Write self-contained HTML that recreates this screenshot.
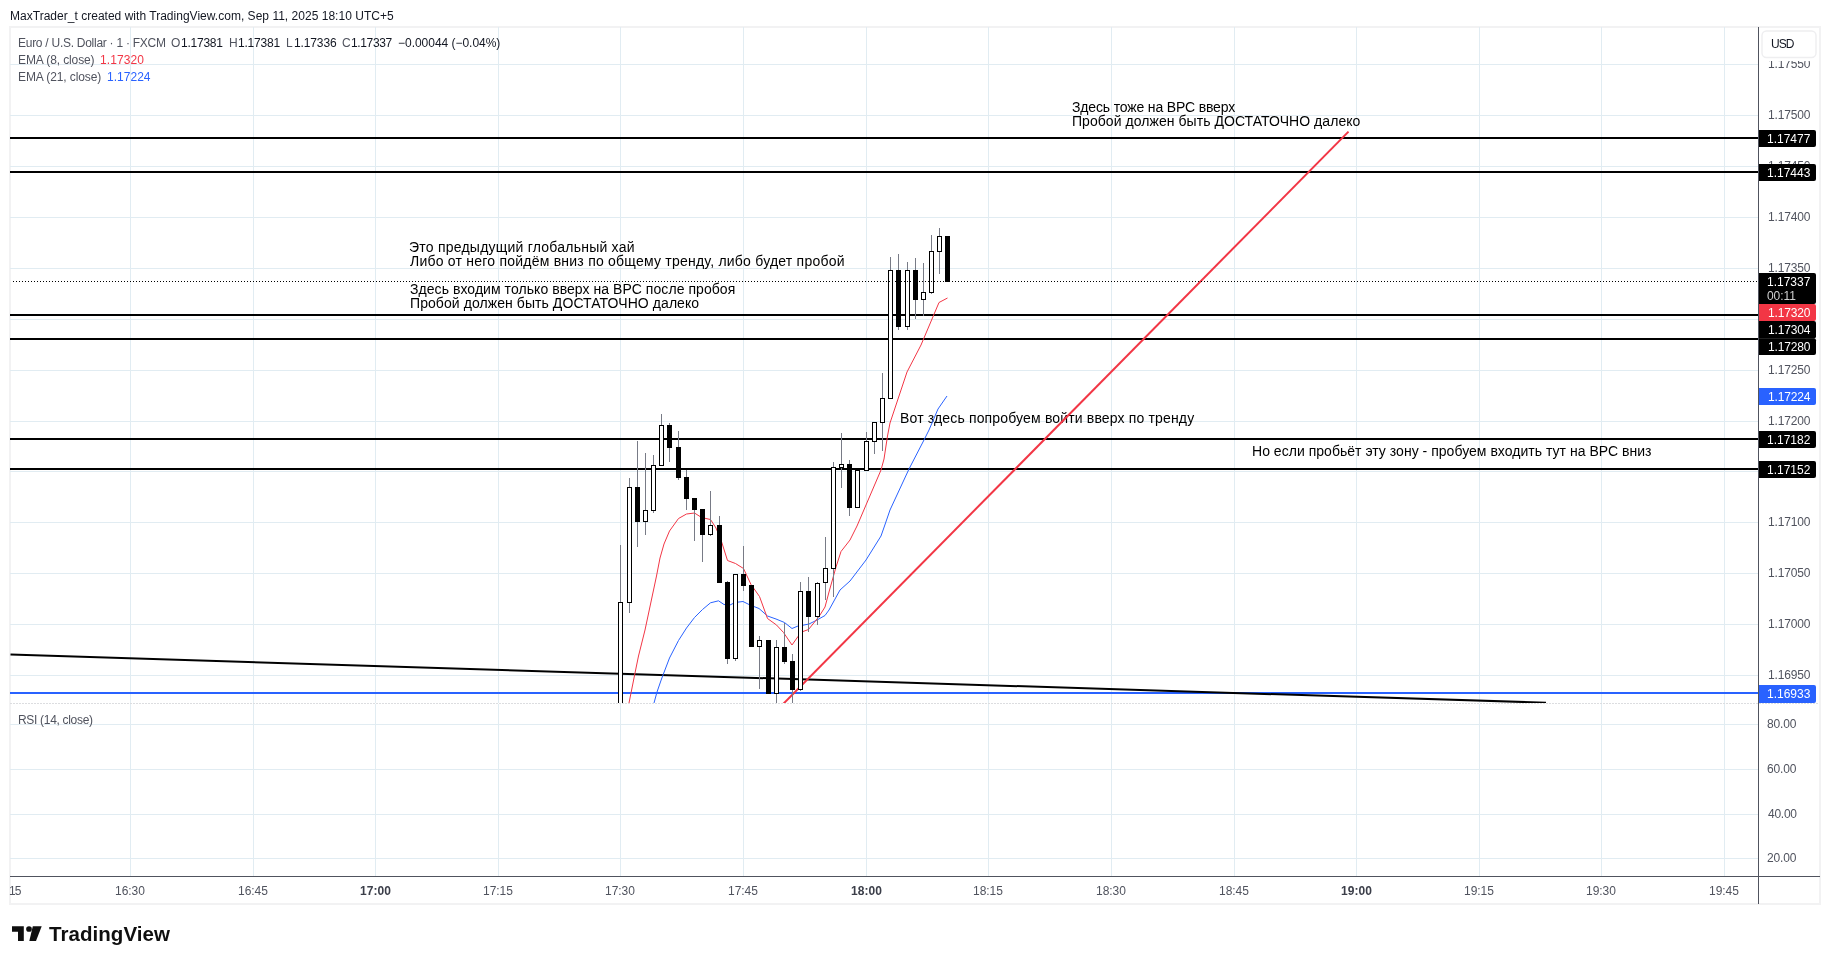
<!DOCTYPE html><html><head><meta charset="utf-8"><title>EURUSD chart</title><style>
html,body{margin:0;padding:0;background:#fff}body{width:1830px;height:964px;position:relative;overflow:hidden;font-family:"Liberation Sans",sans-serif}
.t{position:absolute;white-space:pre;line-height:1;will-change:transform;font-family:"Liberation Sans",sans-serif}
</style></head><body>
<svg width="1830" height="964" viewBox="0 0 1830 964" style="position:absolute;left:0;top:0"><rect x="9" y="26" width="1812" height="879" fill="#f2f2f3"/>
<rect x="11" y="28" width="1808" height="875" fill="#fff"/>
<g fill="#e1ecf2">
<rect x="130" y="27" width="1" height="676"/>
<rect x="130" y="704" width="1" height="172"/>
<rect x="253" y="27" width="1" height="676"/>
<rect x="253" y="704" width="1" height="172"/>
<rect x="375" y="27" width="1" height="676"/>
<rect x="375" y="704" width="1" height="172"/>
<rect x="498" y="27" width="1" height="676"/>
<rect x="498" y="704" width="1" height="172"/>
<rect x="620" y="27" width="1" height="676"/>
<rect x="620" y="704" width="1" height="172"/>
<rect x="743" y="27" width="1" height="676"/>
<rect x="743" y="704" width="1" height="172"/>
<rect x="866" y="27" width="1" height="676"/>
<rect x="866" y="704" width="1" height="172"/>
<rect x="988" y="27" width="1" height="676"/>
<rect x="988" y="704" width="1" height="172"/>
<rect x="1111" y="27" width="1" height="676"/>
<rect x="1111" y="704" width="1" height="172"/>
<rect x="1234" y="27" width="1" height="676"/>
<rect x="1234" y="704" width="1" height="172"/>
<rect x="1356" y="27" width="1" height="676"/>
<rect x="1356" y="704" width="1" height="172"/>
<rect x="1479" y="27" width="1" height="676"/>
<rect x="1479" y="704" width="1" height="172"/>
<rect x="1601" y="27" width="1" height="676"/>
<rect x="1601" y="704" width="1" height="172"/>
<rect x="1724" y="27" width="1" height="676"/>
<rect x="1724" y="704" width="1" height="172"/>
<rect x="10" y="64" width="1748" height="1"/>
<rect x="10" y="115" width="1748" height="1"/>
<rect x="10" y="166" width="1748" height="1"/>
<rect x="10" y="217" width="1748" height="1"/>
<rect x="10" y="268" width="1748" height="1"/>
<rect x="10" y="319" width="1748" height="1"/>
<rect x="10" y="370" width="1748" height="1"/>
<rect x="10" y="421" width="1748" height="1"/>
<rect x="10" y="471" width="1748" height="1"/>
<rect x="10" y="522" width="1748" height="1"/>
<rect x="10" y="573" width="1748" height="1"/>
<rect x="10" y="624" width="1748" height="1"/>
<rect x="10" y="675" width="1748" height="1"/>
<rect x="10" y="724" width="1748" height="1"/>
<rect x="10" y="769" width="1748" height="1"/>
<rect x="10" y="814" width="1748" height="1"/>
<rect x="10" y="858" width="1748" height="1"/>
</g>
<line x1="10" y1="703.5" x2="1819" y2="703.5" stroke="#dcdde0" stroke-width="1" stroke-dasharray="2 1" shape-rendering="crispEdges"/>
<rect x="10" y="137" width="1748" height="2" fill="#000"/>
<rect x="10" y="171" width="1748" height="2" fill="#000"/>
<rect x="10" y="314" width="1748" height="2" fill="#000"/>
<rect x="10" y="338" width="1748" height="2" fill="#000"/>
<rect x="10" y="438" width="1748" height="2" fill="#000"/>
<rect x="10" y="468" width="1748" height="2" fill="#000"/>
<rect x="10" y="692" width="1748" height="2" fill="#2962ff"/></svg>
<div class="t" id="t17" style="left:409.06px;top:240.15px;font-size:14px;color:#000;letter-spacing:0.229px">Это предыдущий глобальный хай</div>
<div class="t" id="t18" style="left:410.14px;top:254.15px;font-size:14px;color:#000;letter-spacing:0.228px">Либо от него пойдём вниз по общему тренду, либо будет пробой</div>
<div class="t" id="t19" style="left:409.91px;top:282.15px;font-size:14px;color:#000;letter-spacing:0.058px">Здесь входим только вверх на ВРС после пробоя</div>
<div class="t" id="t20" style="left:410.24px;top:296.15px;font-size:14px;color:#000;letter-spacing:0.076px">Пробой должен быть ДОСТАТОЧНО далеко</div>
<div class="t" id="t21" style="left:1071.98px;top:100.15px;font-size:14px;color:#000;letter-spacing:-0.152px">Здесь тоже на ВРС вверх</div>
<div class="t" id="t22" style="left:1071.68px;top:114.15px;font-size:14px;color:#000;letter-spacing:0.054px">Пробой должен быть ДОСТАТОЧНО далеко</div>
<div class="t" id="t23" style="left:900.06px;top:411.15px;font-size:14px;color:#000;letter-spacing:0.157px">Вот здесь попробуем войти вверх по тренду</div>
<div class="t" id="t24" style="left:1251.68px;top:444.15px;font-size:14px;color:#000;letter-spacing:0.025px">Но если пробьёт эту зону - пробуем входить тут на ВРС вниз</div>
<svg width="1830" height="964" viewBox="0 0 1830 964" style="position:absolute;left:0;top:0"><clipPath id="cp"><rect x="10" y="27" width="1748" height="676"/></clipPath>
<g clip-path="url(#cp)">
<line x1="10.5" y1="654.5" x2="1546" y2="702.75" stroke="#000" stroke-width="2"/>
<line x1="779.6" y1="707.6" x2="1348.5" y2="131.6" stroke="#f23645" stroke-width="2"/>
<polyline points="654,703 657,692 661.5,679 669.5,658 678.5,640.5 686.5,628 694.5,617.5 702.5,609.5 710.5,602.8 718.5,600.8 724,604.5 730,605 735,602.5 743,601.5 750,605 759,608.5 767.5,616 776,619 784.5,622.5 792,628.5 798,626 804,625 809,624 817,620 825,615.5 829,610 840,590 850,581 866,560 881,536 884.5,526 890,510 909,469 924.5,439 929,430 938,409 947,396" fill="none" stroke="#2962ff" stroke-width="1" stroke-linejoin="round"/>
<polyline points="629,703 635,673 638.5,656 645,630 656.5,576 660,558 664,544 669.5,531 678.5,518.5 686.5,514 694.5,513 700,516.5 705,518.3 710.5,519.5 716,528 721,540 727.5,560.5 735.5,563.5 743.5,568.5 751,584.5 759.5,596.5 767.5,618.5 776.5,625 783.5,632.5 792,645 798,636.5 803,631.5 808.5,629.5 817,619 820,615 825,607 829,592 836,567 841,551.5 850,540 857,526 881,470 884,459 887.5,436 890,423 907,372 921,345 939,302.5 947.5,298" fill="none" stroke="#f23645" stroke-width="1" stroke-linejoin="round"/>
<g shape-rendering="crispEdges">
<rect x="620" y="545" width="1" height="57" fill="#787b86"/>
<rect x="618" y="602" width="5" height="118" fill="#000"/>
<rect x="619" y="603" width="3" height="116" fill="#fff"/>
<rect x="629" y="478" width="1" height="9" fill="#787b86"/>
<rect x="629" y="603" width="1" height="10" fill="#787b86"/>
<rect x="627" y="487" width="5" height="116" fill="#000"/>
<rect x="628" y="488" width="3" height="114" fill="#fff"/>
<rect x="637" y="441" width="1" height="46" fill="#787b86"/>
<rect x="637" y="522" width="1" height="25" fill="#787b86"/>
<rect x="635" y="487" width="5" height="35" fill="#000"/>
<rect x="645" y="453" width="1" height="57" fill="#787b86"/>
<rect x="645" y="522" width="1" height="13" fill="#787b86"/>
<rect x="643" y="510" width="5" height="12" fill="#000"/>
<rect x="644" y="511" width="3" height="10" fill="#fff"/>
<rect x="653" y="455" width="1" height="10" fill="#787b86"/>
<rect x="653" y="511" width="1" height="2" fill="#787b86"/>
<rect x="651" y="465" width="5" height="46" fill="#000"/>
<rect x="652" y="466" width="3" height="44" fill="#fff"/>
<rect x="661" y="414" width="1" height="11" fill="#787b86"/>
<rect x="659" y="425" width="5" height="41" fill="#000"/>
<rect x="660" y="426" width="3" height="39" fill="#fff"/>
<rect x="669" y="423" width="1" height="2" fill="#787b86"/>
<rect x="669" y="448" width="1" height="14" fill="#787b86"/>
<rect x="667" y="425" width="5" height="23" fill="#000"/>
<rect x="678" y="431" width="1" height="16" fill="#787b86"/>
<rect x="678" y="478" width="1" height="2" fill="#787b86"/>
<rect x="676" y="447" width="5" height="31" fill="#000"/>
<rect x="686" y="470" width="1" height="7" fill="#787b86"/>
<rect x="686" y="499" width="1" height="11" fill="#787b86"/>
<rect x="684" y="477" width="5" height="22" fill="#000"/>
<rect x="694" y="510" width="1" height="31" fill="#787b86"/>
<rect x="692" y="498" width="5" height="12" fill="#000"/>
<rect x="702" y="535" width="1" height="27" fill="#787b86"/>
<rect x="700" y="509" width="5" height="26" fill="#000"/>
<rect x="710" y="491" width="1" height="34" fill="#787b86"/>
<rect x="710" y="535" width="1" height="1" fill="#787b86"/>
<rect x="708" y="525" width="5" height="10" fill="#000"/>
<rect x="709" y="526" width="3" height="8" fill="#fff"/>
<rect x="719" y="516" width="1" height="9" fill="#787b86"/>
<rect x="717" y="525" width="5" height="58" fill="#000"/>
<rect x="727" y="581" width="1" height="1" fill="#787b86"/>
<rect x="727" y="659" width="1" height="5" fill="#787b86"/>
<rect x="725" y="582" width="5" height="77" fill="#000"/>
<rect x="735" y="659" width="1" height="2" fill="#787b86"/>
<rect x="733" y="574" width="5" height="85" fill="#000"/>
<rect x="734" y="575" width="3" height="83" fill="#fff"/>
<rect x="743" y="546" width="1" height="28" fill="#787b86"/>
<rect x="743" y="586" width="1" height="5" fill="#787b86"/>
<rect x="741" y="574" width="5" height="12" fill="#000"/>
<rect x="749" y="585" width="5" height="62" fill="#000"/>
<rect x="759" y="636" width="1" height="4" fill="#787b86"/>
<rect x="759" y="647" width="1" height="42" fill="#787b86"/>
<rect x="757" y="640" width="5" height="7" fill="#000"/>
<rect x="758" y="641" width="3" height="5" fill="#fff"/>
<rect x="766" y="640" width="5" height="54" fill="#000"/>
<rect x="776" y="640" width="1" height="7" fill="#787b86"/>
<rect x="776" y="694" width="1" height="26" fill="#787b86"/>
<rect x="774" y="647" width="5" height="47" fill="#000"/>
<rect x="775" y="648" width="3" height="45" fill="#fff"/>
<rect x="784" y="623" width="1" height="24" fill="#787b86"/>
<rect x="784" y="662" width="1" height="2" fill="#787b86"/>
<rect x="782" y="647" width="5" height="15" fill="#000"/>
<rect x="792" y="654" width="1" height="7" fill="#787b86"/>
<rect x="792" y="690" width="1" height="30" fill="#787b86"/>
<rect x="790" y="661" width="5" height="29" fill="#000"/>
<rect x="800" y="582" width="1" height="9" fill="#787b86"/>
<rect x="800" y="690" width="1" height="1" fill="#787b86"/>
<rect x="798" y="591" width="5" height="99" fill="#000"/>
<rect x="799" y="592" width="3" height="97" fill="#fff"/>
<rect x="808" y="577" width="1" height="14" fill="#787b86"/>
<rect x="808" y="617" width="1" height="15" fill="#787b86"/>
<rect x="806" y="591" width="5" height="26" fill="#000"/>
<rect x="817" y="582" width="1" height="1" fill="#787b86"/>
<rect x="817" y="617" width="1" height="8" fill="#787b86"/>
<rect x="815" y="583" width="5" height="34" fill="#000"/>
<rect x="816" y="584" width="3" height="32" fill="#fff"/>
<rect x="825" y="537" width="1" height="31" fill="#787b86"/>
<rect x="825" y="583" width="1" height="17" fill="#787b86"/>
<rect x="823" y="568" width="5" height="15" fill="#000"/>
<rect x="824" y="569" width="3" height="13" fill="#fff"/>
<rect x="833" y="462" width="1" height="5" fill="#787b86"/>
<rect x="833" y="569" width="1" height="28" fill="#787b86"/>
<rect x="831" y="467" width="5" height="102" fill="#000"/>
<rect x="832" y="468" width="3" height="100" fill="#fff"/>
<rect x="841" y="433" width="1" height="31" fill="#787b86"/>
<rect x="841" y="468" width="1" height="20" fill="#787b86"/>
<rect x="839" y="464" width="5" height="4" fill="#000"/>
<rect x="840" y="465" width="3" height="2" fill="#fff"/>
<rect x="849" y="460" width="1" height="4" fill="#787b86"/>
<rect x="849" y="508" width="1" height="8" fill="#787b86"/>
<rect x="847" y="464" width="5" height="44" fill="#000"/>
<rect x="855" y="470" width="5" height="38" fill="#000"/>
<rect x="856" y="471" width="3" height="36" fill="#fff"/>
<rect x="866" y="432" width="1" height="9" fill="#787b86"/>
<rect x="864" y="441" width="5" height="30" fill="#000"/>
<rect x="865" y="442" width="3" height="28" fill="#fff"/>
<rect x="874" y="442" width="1" height="12" fill="#787b86"/>
<rect x="872" y="422" width="5" height="20" fill="#000"/>
<rect x="873" y="423" width="3" height="18" fill="#fff"/>
<rect x="882" y="373" width="1" height="25" fill="#787b86"/>
<rect x="882" y="423" width="1" height="28" fill="#787b86"/>
<rect x="880" y="398" width="5" height="25" fill="#000"/>
<rect x="881" y="399" width="3" height="23" fill="#fff"/>
<rect x="890" y="257" width="1" height="13" fill="#787b86"/>
<rect x="888" y="270" width="5" height="129" fill="#000"/>
<rect x="889" y="271" width="3" height="127" fill="#fff"/>
<rect x="898" y="254" width="1" height="16" fill="#787b86"/>
<rect x="898" y="327" width="1" height="3" fill="#787b86"/>
<rect x="896" y="270" width="5" height="57" fill="#000"/>
<rect x="907" y="262" width="1" height="8" fill="#787b86"/>
<rect x="907" y="327" width="1" height="3" fill="#787b86"/>
<rect x="905" y="270" width="5" height="57" fill="#000"/>
<rect x="906" y="271" width="3" height="55" fill="#fff"/>
<rect x="915" y="258" width="1" height="12" fill="#787b86"/>
<rect x="915" y="300" width="1" height="19" fill="#787b86"/>
<rect x="913" y="270" width="5" height="30" fill="#000"/>
<rect x="923" y="263" width="1" height="29" fill="#787b86"/>
<rect x="923" y="300" width="1" height="16" fill="#787b86"/>
<rect x="921" y="292" width="5" height="8" fill="#000"/>
<rect x="922" y="293" width="3" height="6" fill="#fff"/>
<rect x="931" y="235" width="1" height="16" fill="#787b86"/>
<rect x="931" y="293" width="1" height="1" fill="#787b86"/>
<rect x="929" y="251" width="5" height="42" fill="#000"/>
<rect x="930" y="252" width="3" height="40" fill="#fff"/>
<rect x="939" y="228" width="1" height="8" fill="#787b86"/>
<rect x="939" y="252" width="1" height="22" fill="#787b86"/>
<rect x="937" y="236" width="5" height="16" fill="#000"/>
<rect x="938" y="237" width="3" height="14" fill="#fff"/>
<rect x="945" y="236" width="5" height="46" fill="#000"/>
</g>
<line x1="13" y1="281.5" x2="1758" y2="281.5" stroke="#000" stroke-width="1" stroke-dasharray="1 2" shape-rendering="crispEdges"/>
</g>
<rect x="1758" y="27" width="1" height="877" fill="#50535e"/>
<rect x="10" y="876" width="1810" height="1" fill="#50535e"/></svg>
<div class="t" id="t0" style="left:10.07px;top:9.84px;font-size:12px;color:#131722;letter-spacing:0.020px">MaxTrader_t created with TradingView.com, Sep 11, 2025 18:10 UTC+5</div>
<div class="t" id="t1" style="left:18.07px;top:36.84px;font-size:12px;color:#50535e;letter-spacing:-0.267px">Euro / U.S. Dollar · 1 · FXCM</div>
<div class="t" id="t2" style="left:170.84px;top:36.84px;font-size:12px;color:#50535e;letter-spacing:0.000px">O</div>
<div class="t" id="t3" style="left:181.26px;top:36.84px;font-size:12px;color:#131722;letter-spacing:-0.242px">1.17381</div>
<div class="t" id="t4" style="left:229.04px;top:36.84px;font-size:12px;color:#50535e;letter-spacing:0.000px">H</div>
<div class="t" id="t5" style="left:237.95px;top:36.84px;font-size:12px;color:#131722;letter-spacing:-0.212px">1.17381</div>
<div class="t" id="t6" style="left:286.16px;top:36.84px;font-size:12px;color:#50535e;letter-spacing:0.000px">L</div>
<div class="t" id="t7" style="left:294.26px;top:36.84px;font-size:12px;color:#131722;letter-spacing:-0.125px">1.17336</div>
<div class="t" id="t8" style="left:342.24px;top:36.84px;font-size:12px;color:#50535e;letter-spacing:0.000px">C</div>
<div class="t" id="t9" style="left:351.10px;top:36.84px;font-size:12px;color:#131722;letter-spacing:-0.365px">1.17337</div>
<div class="t" id="t10" style="left:397.56px;top:36.84px;font-size:12px;color:#131722;letter-spacing:-0.024px">−0.00044 (−0.04%)</div>
<div class="t" id="t11" style="left:18.07px;top:53.84px;font-size:12px;color:#50535e;letter-spacing:-0.109px">EMA (8, close)</div>
<div class="t" id="t12" style="left:100.07px;top:53.84px;font-size:12px;color:#f23645;letter-spacing:0.077px">1.17320</div>
<div class="t" id="t13" style="left:18.07px;top:70.84px;font-size:12px;color:#50535e;letter-spacing:-0.100px">EMA (21, close)</div>
<div class="t" id="t14" style="left:106.88px;top:70.84px;font-size:12px;color:#2962ff;letter-spacing:0.028px">1.17224</div>
<div class="t" id="t15" style="left:17.80px;top:713.84px;font-size:12px;color:#50535e;letter-spacing:-0.311px">RSI (14, close)</div>
<div class="t" id="t25" style="left:1768.04px;top:57.84px;font-size:12px;color:#50535e;letter-spacing:-0.162px">1.17550</div>
<div class="t" id="t26" style="left:1768.04px;top:108.84px;font-size:12px;color:#50535e;letter-spacing:-0.162px">1.17500</div>
<div class="t" id="t27" style="left:1768.04px;top:159.84px;font-size:12px;color:#50535e;letter-spacing:-0.162px">1.17450</div>
<div class="t" id="t28" style="left:1768.04px;top:210.84px;font-size:12px;color:#50535e;letter-spacing:-0.162px">1.17400</div>
<div class="t" id="t29" style="left:1768.04px;top:261.84px;font-size:12px;color:#50535e;letter-spacing:-0.162px">1.17350</div>
<div class="t" id="t30" style="left:1768.04px;top:312.84px;font-size:12px;color:#50535e;letter-spacing:-0.162px">1.17300</div>
<div class="t" id="t31" style="left:1768.04px;top:363.84px;font-size:12px;color:#50535e;letter-spacing:-0.162px">1.17250</div>
<div class="t" id="t32" style="left:1768.04px;top:414.84px;font-size:12px;color:#50535e;letter-spacing:-0.162px">1.17200</div>
<div class="t" id="t33" style="left:1768.04px;top:464.84px;font-size:12px;color:#50535e;letter-spacing:-0.162px">1.17150</div>
<div class="t" id="t34" style="left:1768.04px;top:515.84px;font-size:12px;color:#50535e;letter-spacing:-0.162px">1.17100</div>
<div class="t" id="t35" style="left:1768.04px;top:566.84px;font-size:12px;color:#50535e;letter-spacing:-0.162px">1.17050</div>
<div class="t" id="t36" style="left:1768.04px;top:617.84px;font-size:12px;color:#50535e;letter-spacing:-0.162px">1.17000</div>
<div class="t" id="t37" style="left:1768.04px;top:668.84px;font-size:12px;color:#50535e;letter-spacing:-0.162px">1.16950</div>
<div class="t" id="t38" style="left:1767.42px;top:717.84px;font-size:12px;color:#50535e;letter-spacing:-0.173px">80.00</div>
<div class="t" id="t39" style="left:1767.18px;top:762.84px;font-size:12px;color:#50535e;letter-spacing:-0.138px">60.00</div>
<div class="t" id="t40" style="left:1767.90px;top:807.84px;font-size:12px;color:#50535e;letter-spacing:-0.250px">40.00</div>
<div class="t" id="t41" style="left:1767.18px;top:851.84px;font-size:12px;color:#50535e;letter-spacing:-0.138px">20.00</div>
<div class="t" id="t42" style="left:114.95px;top:884.84px;font-size:12px;color:#50535e;letter-spacing:-0.025px">16:30</div>
<div class="t" id="t43" style="left:237.95px;top:884.84px;font-size:12px;color:#50535e;letter-spacing:-0.048px">16:45</div>
<div class="t" id="t44" style="left:360.15px;top:884.84px;font-size:12px;color:#3b3e49;letter-spacing:0.067px;font-weight:700">17:00</div>
<div class="t" id="t45" style="left:482.95px;top:884.84px;font-size:12px;color:#50535e;letter-spacing:-0.048px">17:15</div>
<div class="t" id="t46" style="left:604.95px;top:884.84px;font-size:12px;color:#50535e;letter-spacing:-0.025px">17:30</div>
<div class="t" id="t47" style="left:727.95px;top:884.84px;font-size:12px;color:#50535e;letter-spacing:-0.048px">17:45</div>
<div class="t" id="t48" style="left:851.15px;top:884.84px;font-size:12px;color:#3b3e49;letter-spacing:0.067px;font-weight:700">18:00</div>
<div class="t" id="t49" style="left:972.95px;top:884.84px;font-size:12px;color:#50535e;letter-spacing:-0.048px">18:15</div>
<div class="t" id="t50" style="left:1095.95px;top:884.84px;font-size:12px;color:#50535e;letter-spacing:-0.025px">18:30</div>
<div class="t" id="t51" style="left:1218.95px;top:884.84px;font-size:12px;color:#50535e;letter-spacing:-0.048px">18:45</div>
<div class="t" id="t52" style="left:1341.15px;top:884.84px;font-size:12px;color:#3b3e49;letter-spacing:0.067px;font-weight:700">19:00</div>
<div class="t" id="t53" style="left:1463.95px;top:884.84px;font-size:12px;color:#50535e;letter-spacing:-0.048px">19:15</div>
<div class="t" id="t54" style="left:1585.95px;top:884.84px;font-size:12px;color:#50535e;letter-spacing:-0.025px">19:30</div>
<div class="t" id="t55" style="left:1708.95px;top:884.84px;font-size:12px;color:#50535e;letter-spacing:-0.048px">19:45</div>
<div class="t" id="t56" style="left:8.96px;top:884.84px;font-size:12px;color:#50535e;letter-spacing:-1.000px">15</div>
<svg width="1830" height="964" viewBox="0 0 1830 964" style="position:absolute;left:0;top:0"><rect x="1759" y="28" width="60" height="33" fill="#fff"/>
<rect x="1762" y="31" width="54" height="26.5" rx="4.5" fill="#fff" stroke="#eeeef0" stroke-width="1.4"/>
<path d="M1759 130h55a2 2 0 0 1 2 2v13a2 2 0 0 1 -2 2h-55z" fill="#000"/>
<path d="M1759 164h55a2 2 0 0 1 2 2v13a2 2 0 0 1 -2 2h-55z" fill="#000"/>
<path d="M1759 273h55a2 2 0 0 1 2 2v27a2 2 0 0 1 -2 2h-55z" fill="#000"/>
<path d="M1759 304h55a2 2 0 0 1 2 2v13a2 2 0 0 1 -2 2h-55z" fill="#f23645"/>
<path d="M1759 321h55a2 2 0 0 1 2 2v13.600000000000001a2 2 0 0 1 -2 2h-55z" fill="#000"/>
<path d="M1759 338.2h55a2 2 0 0 1 2 2v12.8a2 2 0 0 1 -2 2h-55z" fill="#000"/>
<path d="M1759 388h55a2 2 0 0 1 2 2v13a2 2 0 0 1 -2 2h-55z" fill="#2962ff"/>
<path d="M1759 431h55a2 2 0 0 1 2 2v13a2 2 0 0 1 -2 2h-55z" fill="#000"/>
<path d="M1759 461h55a2 2 0 0 1 2 2v13a2 2 0 0 1 -2 2h-55z" fill="#000"/>
<path d="M1759 685h55a2 2 0 0 1 2 2v14a2 2 0 0 1 -2 2h-55z" fill="#2962ff"/>
<g fill="#0f0f0f">
<path d="M12 926.2h11.8v14.8h-5.8v-9.3h-6z"/>
<circle cx="29" cy="929" r="2.85"/>
<path d="M32.8 926.2h8.9l-5.7 14.8h-6.7z"/>
</g></svg>
<div class="t" id="t16" style="left:1770.55px;top:37.84px;font-size:12px;color:#131722;letter-spacing:-1.000px">USD</div>
<div class="t" id="t57" style="left:1766.96px;top:132.84px;font-size:12px;color:#fff;letter-spacing:-0.012px">1.17477</div>
<div class="t" id="t58" style="left:1766.96px;top:166.84px;font-size:12px;color:#fff;letter-spacing:-0.012px">1.17443</div>
<div class="t" id="t59" style="left:1766.96px;top:275.84px;font-size:12px;color:#fff;letter-spacing:-0.012px">1.17337</div>
<div class="t" id="t60" style="left:1767.08px;top:289.84px;font-size:12px;color:#cfcfcf;letter-spacing:-0.060px">00:11</div>
<div class="t" id="t61" style="left:1768.04px;top:306.84px;font-size:12px;color:#fff;letter-spacing:-0.162px">1.17320</div>
<div class="t" id="t62" style="left:1768.04px;top:323.84px;font-size:12px;color:#fff;letter-spacing:-0.162px">1.17304</div>
<div class="t" id="t63" style="left:1768.04px;top:340.84px;font-size:12px;color:#fff;letter-spacing:-0.162px">1.17280</div>
<div class="t" id="t64" style="left:1768.04px;top:390.84px;font-size:12px;color:#fff;letter-spacing:-0.162px">1.17224</div>
<div class="t" id="t65" style="left:1766.96px;top:433.84px;font-size:12px;color:#fff;letter-spacing:-0.012px">1.17182</div>
<div class="t" id="t66" style="left:1766.96px;top:463.84px;font-size:12px;color:#fff;letter-spacing:-0.012px">1.17152</div>
<div class="t" id="t67" style="left:1766.96px;top:687.84px;font-size:12px;color:#fff;letter-spacing:-0.012px">1.16933</div>
<div class="t" id="t68" style="left:49.05px;top:923.65px;font-size:20.5px;color:#0f0f0f;letter-spacing:0.054px;font-weight:700">TradingView</div>
</body></html>
